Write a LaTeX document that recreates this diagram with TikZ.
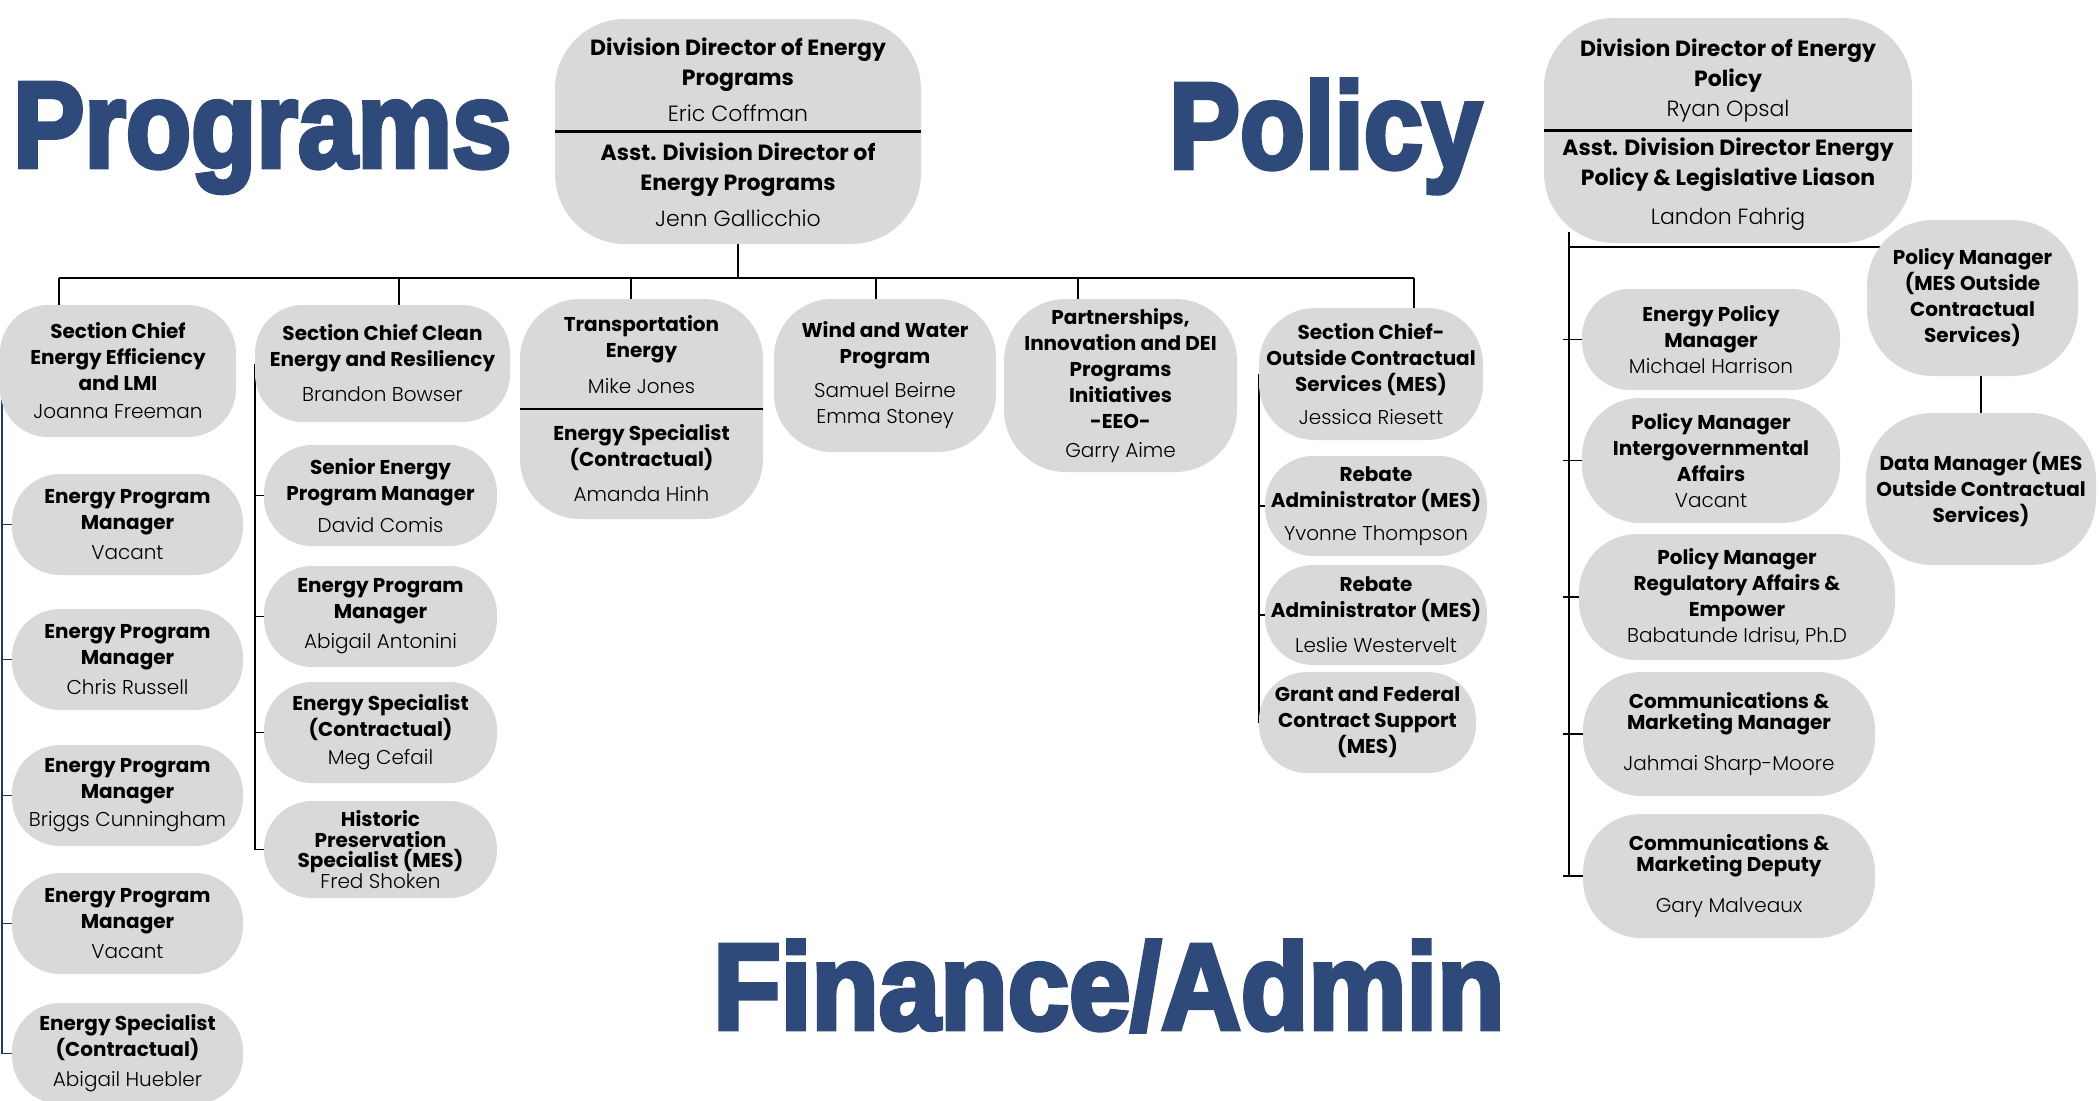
\documentclass[tikz,border=0pt]{standalone}
\usepackage{fontspec}
\usepackage{graphicx}
\setmainfont{Poppins}
\IfFontExistsTF{Poppins Light}
  {\newfontfamily\namefont{Poppins Light}}
  {\newfontfamily\namefont{Poppins}}
\newfontfamily\headfont{Liberation Sans Bold}[FakeBold=4]
\usetikzlibrary{positioning}
\definecolor{headblue}{HTML}{2D4A7A}
\definecolor{boxgrey}{HTML}{D9D9D9}
\definecolor{stemnavy}{HTML}{1F3864}
\pgfdeclarelayer{background}
\pgfsetlayers{background,main}
\newcommand{\person}[1]{{\namefont\mdseries #1}}
\tikzset{
  wh/.style 2 args={minimum width=#1pt, minimum height=#2pt},
  unit/.style={fill=boxgrey, rounded corners=48pt, align=center, inner sep=0pt,
    font=\fontsize{20}{26}\selectfont\bfseries},
  bigunit/.style={unit, rounded corners=70pt},
  parttext/.style={align=center, inner sep=0pt, font=\fontsize{22}{30}\selectfont\bfseries},
  head/.style={headblue, anchor=base west, inner sep=0pt, font=\headfont\fontsize{122}{122}\selectfont},
  link/.style={line width=1.6pt},
  bus/.style={line width=2.5pt},
  split/.style={line width=2.5pt},
}

\begin{document}
\begin{tikzpicture}[x=1pt, y=-1pt]
    \useasboundingbox (0,0) rectangle (2100,1100);
    % titles
    \node[head] (progtitle) at (13,167) {\scalebox{0.875}[1]{Programs}};
    \node[head] (poltitle) at (1169,168) {\scalebox{0.87}[1]{Policy}};
    \node[head] (fintitle) at (713,1029) {\scalebox{0.905}[1]{Finance/Admin}};

    % programs director
    \node[bigunit, wh={366}{225}] (progdir) at (738,131.5) {};
    \node[parttext] (progdirhi) at (738,80) {Division Director of Energy\\Programs\\[6pt]\person{Eric Coffman}};
    \node[parttext] (progdirlo) at (738,185) {Asst. Division Director of\\Energy Programs\\[6pt]\person{Jenn Gallicchio}};
    \draw[split] (progdir.west) -- (progdir.east);

    % programs sections
    \node[unit, wh={236}{132}] (eechief) at (118,371) {Section Chief\\Energy Efficiency\\and LMI\\[2pt]\person{Joanna Freeman}};
    \node[unit, wh={255}{117}] (cleanchief) at (382.5,363.5) {Section Chief Clean\\Energy and Resiliency\\[9pt]\person{Brandon Bowser}};
    \node[unit, rounded corners=60pt, wh={243}{220}] (transp) at (641.5,409) {};
    \node[unit, fill=none] (transphi) at (641.5,355) {Transportation\\Energy\\[10pt]\person{Mike Jones}};
    \node[unit, fill=none] (transplo) at (641.5,463.5) {Energy Specialist\\(Contractual)\\[9pt]\person{Amanda Hinh}};
    \draw[split] (transp.west) -- (transp.east);
    \node[unit, rounded corners=58pt, wh={222}{153}] (windwater) at (885,375.5) {Wind and Water\\Program\\[8pt]\person{Samuel Beirne}\\\person{Emma Stoney}};
    \node[unit, rounded corners=62pt, wh={233}{173}] (partner) at (1120.5,385.5) {Partnerships,\\Innovation and DEI\\Programs\\Initiatives\\-EEO-\\[3pt]\person{Garry Aime}};
    \node[unit, rounded corners=56pt, wh={224}{132}] (meschief) at (1371,374) {Section Chief-\\Outside Contractual\\Services (MES)\\[7pt]\person{Jessica Riesett}};

    % energy efficiency column
    \node[unit, wh={231}{101}] (epmone) at (127.5,524.5) {Energy Program\\Manager\\[4pt]\person{Vacant}};
    \node[unit, wh={231}{101}] (epmtwo) at (127.5,659.5) {Energy Program\\Manager\\[4pt]\person{Chris Russell}};
    \node[unit, wh={231}{101}] (epmthree) at (127.5,795.5) {Energy Program\\Manager\\[2pt]\person{Briggs Cunningham}};
    \node[unit, wh={231}{101}] (epmfour) at (127.5,923.5) {Energy Program\\Manager\\[4pt]\person{Vacant}};
    \node[unit, wh={231}{101}] (specone) at (127.5,1053.5) {Energy Specialist\\(Contractual)\\[4pt]\person{Abigail Huebler}};

    % clean energy column
    \node[unit, wh={233}{101}] (seniorpm) at (380.5,495.5) {Senior Energy\\Program Manager\\[6pt]\person{David Comis}};
    \node[unit, wh={233}{101}] (epmfive) at (380.5,616.5) {Energy Program\\Manager\\[4pt]\person{Abigail Antonini}};
    \node[unit, wh={233}{101}] (spectwo) at (380.5,732.5) {Energy Specialist\\(Contractual)\\[2pt]\person{Meg Cefail}};
    \node[unit, wh={233}{97}, font=\fontsize{20}{20.5}\selectfont\bfseries] (histpres) at (380.5,849.5) {Historic\\Preservation\\Specialist (MES)\\\person{Fred Shoken}};

    % outside contractual column
    \node[unit, wh={222}{100}] (rebateone) at (1376,506) {Rebate\\Administrator (MES)\\[7pt]\person{Yvonne Thompson}};
    \node[unit, wh={222}{100}] (rebatetwo) at (1376,615) {Rebate\\Administrator (MES)\\[9pt]\person{Leslie Westervelt}};
    \node[unit, wh={217}{101}] (grant) at (1367.5,722.5) {Grant and Federal\\Contract Support\\(MES)};

    % policy director
    \node[bigunit, wh={368}{225}] (poldir) at (1728,130.5) {};
    \node[parttext] (poldirhi) at (1728,81) {Division Director of Energy\\Policy\\\person{Ryan Opsal}};
    \node[parttext] (poldirlo) at (1728,184.5) {Asst. Division Director Energy\\Policy \& Legislative Liason\\[9pt]\person{Landon Fahrig}};
    \draw[split] (poldir.west) -- (poldir.east);

    % policy staff
    \node[unit, wh={258}{101}] (enpolmgr) at (1711,339.5) {Energy Policy\\Manager\\\person{Michael Harrison}};
    \node[unit, rounded corners=58pt, wh={258}{125}] (intergov) at (1711,460.5) {Policy Manager\\Intergovernmental\\Affairs\\\person{Vacant}};
    \node[unit, rounded corners=58pt, wh={316}{126}] (regaff) at (1737,597) {Policy Manager\\Regulatory Affairs \&\\Empower\\\person{Babatunde Idrisu, Ph.D}};
    \node[unit, rounded corners=58pt, wh={292}{124}, font=\fontsize{20}{21}\selectfont\bfseries] (commmgr) at (1729,734) {Communications \&\\Marketing Manager\\[20pt]\person{Jahmai Sharp-Moore}};
    \node[unit, rounded corners=58pt, wh={292}{124}, font=\fontsize{20}{21}\selectfont\bfseries] (commdep) at (1729,876) {Communications \&\\Marketing Deputy\\[20pt]\person{Gary Malveaux}};
    \node[unit, rounded corners=66pt, wh={211}{156}] (mespolmgr) at (1972.5,298) {Policy Manager\\(MES Outside\\Contractual\\Services)};
    \node[unit, rounded corners=66pt, wh={230}{152}] (datamgr) at (1981,489) {Data Manager (MES\\Outside Contractual\\Services)};

    % connectors
    \begin{pgfonlayer}{background}
        \coordinate (progbus) at (738,278);
        \coordinate (busleft) at (59,278);
        \coordinate (busright) at (1414,278);
        \draw[link] (progdir) -- (progbus);
        \draw[bus] (busleft) -- (busright);
        \foreach \x/\n in {59/eechief, 399/cleanchief, 631/transp, 876/windwater, 1078/partner, 1414/meschief}
            \draw[link] (\x,278) -- (\x,278 |- \n.north);
        \coordinate (eestem) at (2,380);
        \draw[link, stemnavy] (eestem) -- (eestem |- specone.west);
        \foreach \n in {epmone, epmtwo, epmthree, epmfour, specone}
            \draw[link, stemnavy] (eestem |- \n.west) -- (\n.west);
        \draw[link] (cleanchief.west) -- (cleanchief.west |- histpres.west);
        \foreach \n in {seniorpm, epmfive, spectwo, histpres}
            \draw[link] (cleanchief.west |- \n.west) -- (\n.west);
        \draw[link] (meschief.west) -- (grant.west);
        \foreach \n in {rebateone, rebatetwo}
            \draw[link] (meschief.west |- \n.west) -- (\n.west);
        \coordinate (polstem) at (1569,232);
        \coordinate (polbranch) at (1569,247);
        \draw[link] (polstem) -- (polstem |- commdep.west);
        \draw[link] (polbranch) -- (polbranch -| mespolmgr.center);
        \foreach \n in {enpolmgr, intergov, regaff, commmgr, commdep}
            \draw[link] ([xshift=-6pt]polstem |- \n.west) -- (\n.west);
        \draw[link] (datamgr.north |- mespolmgr.south) -- (datamgr.north);
    \end{pgfonlayer}
\end{tikzpicture}
\end{document}
